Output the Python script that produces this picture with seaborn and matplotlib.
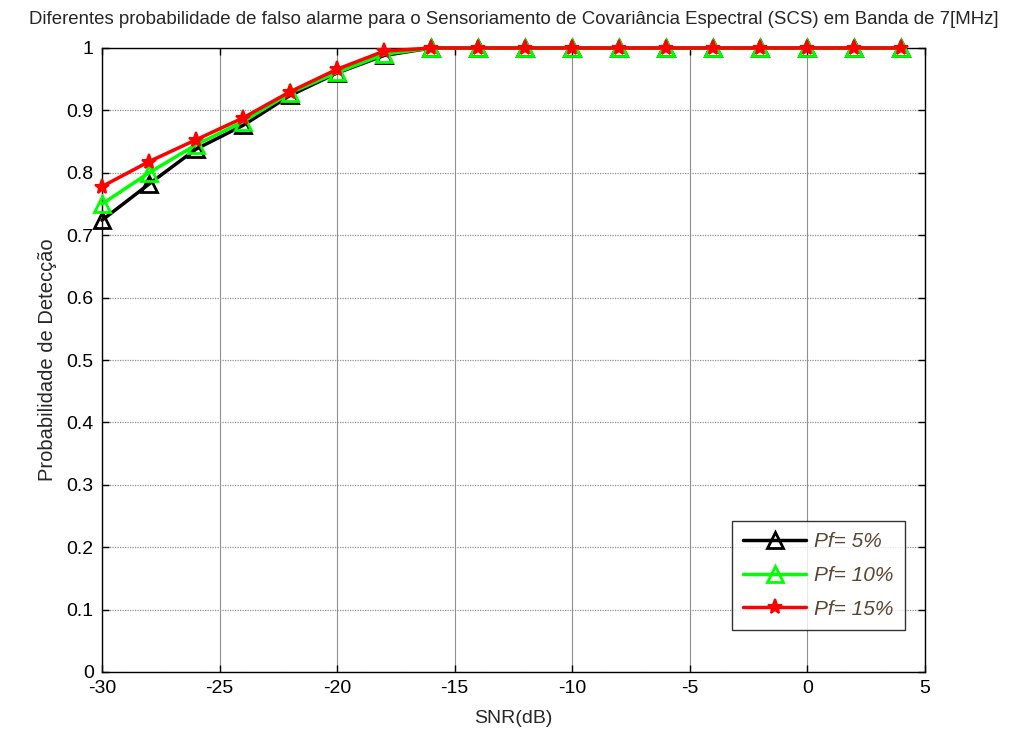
import matplotlib
matplotlib.use("Agg")
import matplotlib.pyplot as plt
import seaborn as sns
import pandas as pd

snr_db = [-30, -28, -26, -24, -22, -20, -18, -16, -14, -12, -10, -8, -6, -4, -2, 0, 2, 4]
pd_pf5 = [0.724, 0.782, 0.838, 0.876, 0.924, 0.960, 0.988, 1, 1, 1, 1, 1, 1, 1, 1, 1, 1, 1]
pd_pf10 = [0.750, 0.800, 0.845, 0.882, 0.928, 0.961, 0.990, 1, 1, 1, 1, 1, 1, 1, 1, 1, 1, 1]
pd_pf15 = [0.778, 0.818, 0.853, 0.888, 0.930, 0.966, 0.995, 1, 1, 1, 1, 1, 1, 1, 1, 1, 1, 1]
series_labels = ["Pf= 5%", "Pf= 10%", "Pf= 15%"]

sns.set_theme(style="white")
plt.rcParams["font.family"] = ["Liberation Sans", "DejaVu Sans"]
plt.rcParams["axes.unicode_minus"] = False

fig = plt.figure(figsize=(10.16, 7.4), dpi=100)
ax = fig.add_axes([102 / 1016, 1 - 672 / 740, 823 / 1016, 624 / 740])

df = pd.concat([
    pd.DataFrame({"snr": snr_db, "pd": pd_pf5, "serie": series_labels[0]}),
    pd.DataFrame({"snr": snr_db, "pd": pd_pf10, "serie": series_labels[1]}),
    pd.DataFrame({"snr": snr_db, "pd": pd_pf15, "serie": series_labels[2]}),
])

styles = [
    dict(color="black", marker="^", mfc="none", mec="black", ms=12, mew=2.0),
    dict(color="#00ff00", marker="^", mfc="none", mec="#00ff00", ms=12, mew=2.0),
    dict(color="red", marker="*", mfc="red", mec="red", ms=11, mew=1.5),
]
for lab, st in zip(series_labels, styles):
    sub = df[df["serie"] == lab]
    sns.lineplot(data=sub, x="snr", y="pd", ax=ax, label=lab, linewidth=2.5,
                 markersize=st["ms"], marker=st["marker"], color=st["color"],
                 markerfacecolor=st["mfc"], markeredgecolor=st["mec"],
                 markeredgewidth=st["mew"], clip_on=False, zorder=3)

ax.set_xlim(-30, 5)
ax.set_ylim(0, 1)
ax.set_xticks(range(-30, 6, 5))
ax.set_yticks([i / 10 for i in range(11)])
ax.set_yticklabels(["0", "0.1", "0.2", "0.3", "0.4", "0.5", "0.6", "0.7", "0.8", "0.9", "1"])

ax.xaxis.grid(True, color="#909090", linestyle="-", linewidth=0.8)
ax.yaxis.grid(True, color="#909090", linestyle=(0, (1, 1)), linewidth=0.9)
ax.set_axisbelow(True)
for s in ax.spines.values():
    s.set_visible(True)
    s.set_color("black")
    s.set_linewidth(1.0)
ax.tick_params(direction="in", length=5, width=1, top=True, right=True,
               labelsize=14, colors="black", pad=6)
ax.tick_params(axis="both", which="both", bottom=True, left=True)

ax.set_xlabel("SNR(dB)", fontsize=14, labelpad=9)
ax.set_ylabel("Probabilidade de Detecção", fontsize=14.5, labelpad=7)
ax.set_title("Diferentes probabilidade de falso alarme para o Sensoriamento de Covariância Espectral (SCS) em Banda de 7[MHz]",
             fontsize=13.4, pad=17)

leg = ax.legend(loc="lower right", bbox_to_anchor=(0.9757, 0.0673), frameon=True,
                fancybox=False, edgecolor="black", fontsize=15, handlelength=3.0,
                borderpad=0.55, labelspacing=0.7, handletextpad=0.4,
                borderaxespad=0.0)
leg.get_frame().set_linewidth(1.0)
leg.set_zorder(5)
for t in leg.get_texts():
    t.set_fontstyle("italic")
    t.set_color("#5a4632")

fig.savefig("out.png", dpi=100, facecolor="white")
